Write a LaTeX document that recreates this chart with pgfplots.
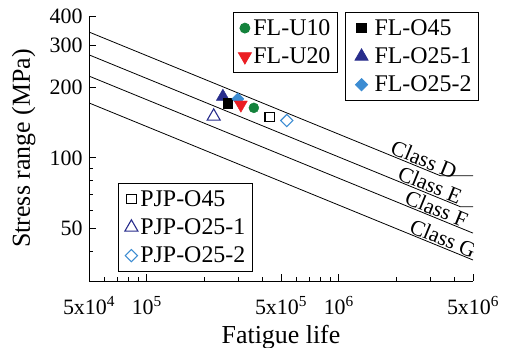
\documentclass[border=0pt]{standalone}
\usepackage{pgfplots}
\pgfplotsset{compat=1.18}
\usepackage{fontspec}
\setmainfont{Liberation Serif}
\definecolor{mgreen}{RGB}{20,130,60}
\definecolor{mred}{RGB}{235,30,35}
\definecolor{mnavy}{RGB}{40,45,140}
\definecolor{mblue}{RGB}{60,140,210}
\pgfplotsset{
  legend image code/.code={\draw[mark repeat=2,mark phase=2,#1] plot coordinates {(0bp,0bp)(11bp,0bp)(28bp,0bp)};},
  mylegend/.style={legend style={font=\fontsize{24}{27}\selectfont, draw=black, line width=0.8pt, fill=white,
      inner xsep=5bp, inner ysep=5bp, row sep=7bp, cells={anchor=west}}},
}
\begin{document}
\begin{tikzpicture}
\begin{axis}[name=main, mylegend,
  xmode=log, ymode=log, scale only axis, width=384bp, height=265bp,
  xmin=5e4, xmax=5e6, ymin=30, ymax=400,
  axis lines=left, axis line style={-, line width=0.9pt},
  tick align=inside, major tick length=7bp, minor tick length=4bp,
  tick style={line width=0.8pt, black},
  xtick={5e4,1e5,5e5,1e6,5e6},
  xticklabels={5x10\textsuperscript{4},10\textsuperscript{5},5x10\textsuperscript{5},10\textsuperscript{6},5x10\textsuperscript{6}},
  minor xtick={6e4,7e4,8e4,9e4,2e5,3e5,4e5,6e5,7e5,8e5,9e5,2e6,3e6,4e6},
  ytick={50,100,200,300,400}, yticklabels={50,100,200,300,400},
  minor ytick={40,60,70,80,90},
  ticklabel style={font=\fontsize{22}{25}\selectfont},
  xticklabel style={yshift=-12bp},
  yticklabel style={xshift=-3bp},
  xlabel={Fatigue life}, ylabel={Stress range (MPa)},
  label style={font=\fontsize{26}{29}\selectfont},
  xlabel style={at={(axis description cs:0.5,-0.236)}, anchor=base},
  ylabel style={at={(axis description cs:-0.17,0.5)}, anchor=center},
  legend style={at={(rel axis cs:0.375,1.015)}, anchor=north west},
]
% JSSC design curves
\addplot[black, line width=0.8pt, forget plot] coordinates {(5e4,342.0) (3.374e6,84) (5e6,84)};
\addplot[black, line width=0.8pt, forget plot] coordinates {(5e4,273.6) (4.297e6,62) (5e6,62)};
\addplot[black, line width=0.8pt, forget plot] coordinates {(5e4,222.3) (5e6,47.9)};
\addplot[black, line width=0.8pt, forget plot] coordinates {(5e4,171.0) (5e6,36.84)};
% PJP
\addplot[only marks, forget plot, black, mark=square, mark size=4.8bp, mark options={line width=1.1pt, fill=white}] coordinates {(4.37e5,149)};
\addplot[only marks, forget plot, mnavy, mark=triangle, mark size=7.5bp, mark options={line width=1.1pt, fill=white}] coordinates {(2.23e5,150)};
\addplot[only marks, forget plot, mblue, mark=square, mark size=4.3bp, mark options={rotate=45, line width=1.1pt, fill=white}] coordinates {(5.36e5,144)};
% FL
\addplot[only marks, forget plot, mnavy, mark=triangle*, mark size=7.5bp, mark options={fill=mnavy}] coordinates {(2.49e5,182)};
\addplot[only marks, forget plot, black, mark=square*, mark size=4.8bp, mark options={fill=black}] coordinates {(2.64e5,171)};
\addplot[only marks, forget plot, mblue, mark=square*, mark size=4.3bp, mark options={rotate=45, fill=mblue}] coordinates {(2.98e5,178)};
\addplot[only marks, mgreen, mark=*, mark size=5bp, mark options={fill=mgreen}] coordinates {(3.61e5,163)};
\addlegendentry{FL-U10}
\addplot[only marks, mred, mark=triangle*, mark size=7.5bp, mark options={rotate=180, fill=mred}] coordinates {(3.09e5,168)};
\addlegendentry{FL-U20}
% class labels
\node[rotate=-22.2, anchor=south west, inner sep=1bp, font=\fontsize{22}{25}\selectfont] at (axis cs:1.8e6,103.6) {Class D};
\node[rotate=-22.2, anchor=south west, inner sep=1bp, font=\fontsize{22}{25}\selectfont] at (axis cs:1.96e6,80.5) {Class E};
\node[rotate=-22.2, anchor=south west, inner sep=1bp, font=\fontsize{22}{25}\selectfont] at (axis cs:2.13e6,63.6) {Class F};
\node[rotate=-22.2, anchor=south west, inner sep=1bp, font=\fontsize{22}{25}\selectfont] at (axis cs:2.26e6,48.0) {Class G};
\end{axis}
\begin{axis}[mylegend, xmode=log, ymode=log, scale only axis, width=384bp, height=265bp,
  xmin=5e4, xmax=5e6, ymin=30, ymax=400, hide axis,
  legend image code/.code={\path[draw=none, fill=none] (0bp,0bp) -- (22bp,0bp); \draw[mark repeat=2,mark phase=2,#1] plot coordinates {(0bp,0bp)(11bp,0bp)(22bp,0bp)};},
  legend style={at={(rel axis cs:0.667,1.015)}, anchor=north west}]
\addlegendimage{only marks, black, mark=square*, mark size=4.8bp, mark options={fill=black}}
\addlegendentry{FL-O45}
\addlegendimage{only marks, mnavy, mark=triangle*, mark size=7.5bp, mark options={fill=mnavy}}
\addlegendentry{FL-O25-1}
\addlegendimage{only marks, mblue, mark=square*, mark size=4.3bp, mark options={rotate=45, fill=mblue}}
\addlegendentry{FL-O25-2}
\end{axis}
\begin{axis}[mylegend, xmode=log, ymode=log, scale only axis, width=384bp, height=265bp,
  xmin=5e4, xmax=5e6, ymin=30, ymax=400, hide axis,
  legend image code/.code={\path[draw=none, fill=none] (0bp,0bp) -- (15bp,0bp); \draw[mark repeat=2,mark phase=2,#1] plot coordinates {(0bp,0bp)(8bp,0bp)(15bp,0bp)};},
  legend style={at={(rel axis cs:0.0755,0.370)}, anchor=north west}]
\addlegendimage{only marks, black, mark=square, mark size=4.8bp, mark options={line width=1.1pt, fill=white}}
\addlegendentry{PJP-O45}
\addlegendimage{only marks, mnavy, mark=triangle, mark size=7.5bp, mark options={line width=1.1pt, fill=white}}
\addlegendentry{PJP-O25-1}
\addlegendimage{only marks, mblue, mark=square, mark size=4.3bp, mark options={rotate=45, line width=1.1pt, fill=white}}
\addlegendentry{PJP-O25-2}
\end{axis}
\pgfresetboundingbox
\path[use as bounding box] (main.south west) ++(-89bp,-67bp) rectangle ++(507bp,348bp);
\end{tikzpicture}
\end{document}
